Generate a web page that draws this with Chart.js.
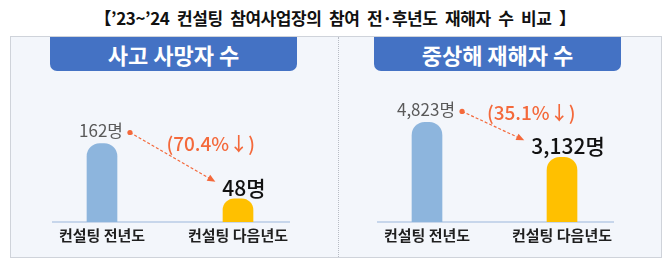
<html>
<head>
<meta charset="utf-8">
<style>
  body { margin: 0; width: 670px; height: 259px; background: #fff; position: relative; overflow: hidden;
         font-family: "Noto Sans CJK KR", sans-serif; }
  #title { position: absolute; left: 0; top: 5px; width: 670px; text-align: center; font-size: 17px;
           font-weight: bold; color: #111; letter-spacing: -0.4px; word-spacing: 4px; }
  #box { position: absolute; left: 10px; top: 36px; width: 650px; height: 220px;
         border: 1px solid #cfd3da; background: #f3f6fb; }
  #sep { position: absolute; left: 338px; top: 37px; height: 220px; border-left: 1px dotted #b8bcc4; }
  .banner { position: absolute; top: 37px; height: 34px; line-height: 34px; background: #4472c4; color: #fff;
            text-align: center; font-size: 22px; font-weight: bold; border-radius: 0 0 7px 7px; }
  .wrap { position: absolute; top: 72px; }
</style>
</head>
<body>
<script src="https://cdn.jsdelivr.net/npm/chart.js@4.4.0/dist/chart.umd.min.js"></script>
<div id="title">【’23~’24 컨설팅 참여사업장의 참여 전·후년도 재해자 수 비교 】</div>
<div id="box"></div>
<div id="sep"></div>
<div class="banner" style="left:50px;width:247px" id="t1"></div>
<div class="banner" style="left:374px;width:247px" id="t2"></div>
<div class="wrap" style="left:11px"><canvas id="c1" width="327" height="186"></canvas></div>
<div class="wrap" style="left:339px"><canvas id="c2" width="321" height="186"></canvas></div>
<script>
const categories = ['컨설팅 전년도', '컨설팅 다음년도'];
const panelTitles = ['사고 사망자 수', '중상해 재해자 수'];
const deathValues = [162, 48];
const injuryValues = [4823, 3132];
const changeLabels = ['(70.4%↓)', '(35.1%↓)'];
const barColors = ['#8db5dd', '#ffc000'];

document.getElementById('t1').textContent = panelTitles[0];
document.getElementById('t2').textContent = panelTitles[1];

const FONT = '"Noto Sans CJK KR", sans-serif';
const ORANGE = '#f4693b';

const callout = {
  id: 'callout',
  beforeDatasetsDraw(chart) {
    const ctx = chart.ctx;
    const bars = chart.getDatasetMeta(0).data;
    const y0 = chart.scales.y.getPixelForValue(0);
    ctx.save();
    ctx.strokeStyle = '#b9cbe6';
    ctx.lineWidth = 1.5;
    ctx.beginPath();
    ctx.moveTo(bars[0].x - 50, y0);
    ctx.lineTo(bars[1].x + 52, y0);
    ctx.stroke();
    ctx.restore();
  },
  afterDatasetsDraw(chart, args, opts) {
    const ctx = chart.ctx;
    const bars = chart.getDatasetMeta(0).data;
    const vals = chart.data.datasets[0].data;
    ctx.save();
    // first value
    ctx.font = '17px ' + FONT;
    ctx.fillStyle = '#595959';
    ctx.textAlign = 'center';
    ctx.textBaseline = 'middle';
    const t1 = vals[0].toLocaleString('en-US') + '명';
    const y1 = bars[0].y - 13;
    ctx.fillText(t1, bars[0].x - 1, y1);
    const w1 = ctx.measureText(t1).width;
    const dx = bars[0].x - 1 + w1 / 2 + 7, dy = y1 + 2;
    // second value
    ctx.font = '500 21px ' + FONT;
    ctx.fillStyle = '#111';
    const t2 = vals[1].toLocaleString('en-US') + '명';
    const cx2 = bars[1].x + 6, y2 = bars[1].y - 11;
    ctx.fillText(t2, cx2, y2);
    const w2 = ctx.measureText(t2).width;
    const ex = cx2 - w2 / 2 - 7, ey = y2 - 6;
    // dot
    ctx.fillStyle = ORANGE;
    ctx.beginPath();
    ctx.arc(dx, dy, 2.6, 0, Math.PI * 2);
    ctx.fill();
    // dashed arrow line
    const ang = Math.atan2(ey - dy, ex - dx);
    ctx.strokeStyle = ORANGE;
    ctx.lineWidth = 1.2;
    ctx.setLineDash([3, 2]);
    ctx.beginPath();
    ctx.moveTo(dx, dy);
    ctx.lineTo(ex - 5 * Math.cos(ang), ey - 5 * Math.sin(ang));
    ctx.stroke();
    ctx.setLineDash([]);
    ctx.beginPath();
    ctx.moveTo(ex, ey);
    ctx.lineTo(ex - 8 * Math.cos(ang) + 3.5 * Math.sin(ang), ey - 8 * Math.sin(ang) - 3.5 * Math.cos(ang));
    ctx.lineTo(ex - 8 * Math.cos(ang) - 3.5 * Math.sin(ang), ey - 8 * Math.sin(ang) + 3.5 * Math.cos(ang));
    ctx.closePath();
    ctx.fill();
    // change text
    ctx.font = '500 19px ' + FONT;
    ctx.fillText(opts.change, (dx + ex) / 2 + 38, (dy + ey) / 2 - 13);
    ctx.restore();
  }
};

function makeChart(id, values, yMax, change, padL, padR) {
  return new Chart(document.getElementById(id), {
    type: 'bar',
    data: {
      labels: categories,
      datasets: [{
        data: values,
        backgroundColor: barColors,
        barThickness: 30,
        borderRadius: { topLeft: 13, topRight: 13 },
        borderSkipped: 'bottom'
      }]
    },
    options: {
      responsive: false,
      animation: false,
      devicePixelRatio: 1,
      layout: { padding: { left: padL, right: padR, top: 24, bottom: 10 } },
      plugins: { legend: { display: false }, tooltip: { enabled: false }, callout: { change: change } },
      scales: {
        x: {
          offset: true,
          grid: { display: false, drawTicks: false },
          border: { display: false },
          ticks: { color: '#1f1f1f', padding: 4, font: { family: FONT, size: 15, weight: 'bold' } }
        },
        y: { display: false, min: 0, max: yMax }
      }
    },
    plugins: [callout]
  });
}

makeChart('c1', deathValues, 260, changeLabels[0], 23, 32);
makeChart('c2', injuryValues, 6100, changeLabels[1], 20.5, 30.5);
</script>
</body>
</html>
